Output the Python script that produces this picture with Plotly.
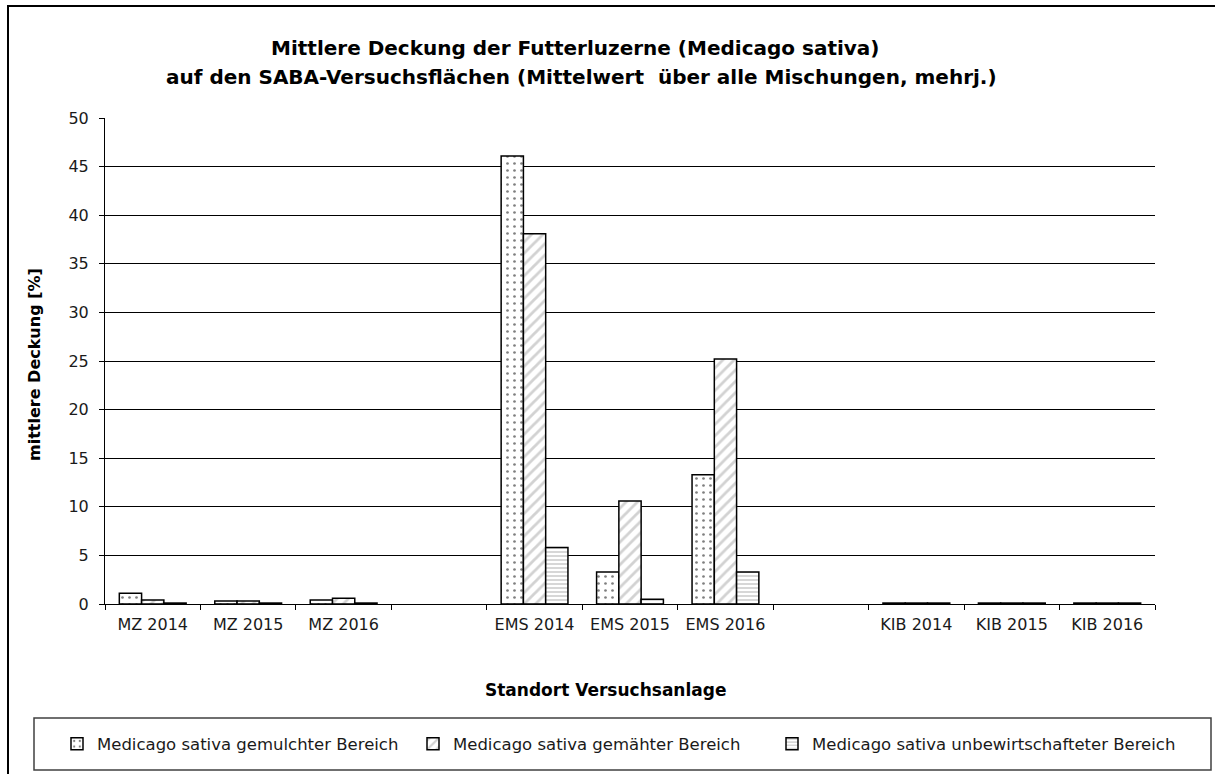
import plotly.graph_objects as go

categories = ["MZ 2014", "MZ 2015", "MZ 2016", " ", "EMS 2014", "EMS 2015", "EMS 2016", "  ",
              "KIB 2014", "KIB 2015", "KIB 2016"]
gemulcht = [1.1, 0.3, 0.4, None, 46.1, 3.3, 13.3, None, 0.1, 0.1, 0.1]
gemaeht = [0.4, 0.3, 0.6, None, 38.1, 10.6, 25.2, None, 0.1, 0.1, 0.1]
unbewirtschaftet = [0.1, 0.1, 0.1, None, 5.8, 0.5, 3.3, None, 0.1, 0.1, 0.1]
series_names = ["Medicago sativa gemulchter Bereich",
                "Medicago sativa gemähter Bereich",
                "Medicago sativa unbewirtschafteter Bereich"]
y_ticks = [0, 5, 10, 15, 20, 25, 30, 35, 40, 45, 50]

FONT = "DejaVu Sans, Arial, sans-serif"
W, H = 1215, 774
L, R, T, B = 105, 1155, 118, 604


def px(x):
    return (x - L) / (R - L)


def py(y):
    return (B - y) / (B - T)


fig = go.Figure()
patterns = [
    dict(shape=".", fgcolor="black", bgcolor="white", size=7, solidity=0.12),
    dict(shape="/", fgcolor="#a6a6a6", bgcolor="white", size=8, solidity=0.35),
    dict(shape="-", fgcolor="#a6a6a6", bgcolor="white", size=4, solidity=0.45),
]
legend_ids = ["legend", "legend2", "legend3"]
legend_text_x = [97, 453, 812]
for name, vals, pat, lid in zip(series_names, [gemulcht, gemaeht, unbewirtschaftet], patterns, legend_ids):
    fig.add_trace(go.Bar(
        x=categories, y=vals, name=name, legend=lid,
        marker=dict(color="white", pattern=pat, line=dict(color="black", width=1.5)),
    ))

legend_common = dict(orientation="h", xanchor="left", y=py(744), yanchor="middle",
                     font=dict(family=FONT, size=16.5, color="#1a1a1a"),
                     bgcolor="rgba(0,0,0,0)", borderwidth=0)

fig.update_layout(
    width=W, height=H,
    margin=dict(l=L, r=W - R, t=T, b=H - B, autoexpand=False),
    paper_bgcolor="white", plot_bgcolor="white",
    font=dict(family=FONT, size=16, color="#1a1a1a"),
    barmode="group", bargap=0.3, bargroupgap=0,
    showlegend=True,
    legend=dict(x=px(legend_text_x[0] - 40), **legend_common),
    legend2=dict(x=px(legend_text_x[1] - 40), **legend_common),
    legend3=dict(x=px(legend_text_x[2] - 40), **legend_common),
    xaxis=dict(type="category", categoryorder="array", categoryarray=categories,
               showline=True, linecolor="black", linewidth=1,
               ticks="outside", tickson="boundaries", ticklen=5, tickcolor="black",
               showgrid=False, tickfont=dict(size=16), ticklabelstandoff=6),
    yaxis=dict(range=[0, 50], tickvals=y_ticks, showline=True, linecolor="black", linewidth=1,
               ticks="outside", ticklen=5, tickcolor="black",
               showgrid=True, gridcolor="black", gridwidth=1, zeroline=False,
               tickfont=dict(size=16), ticklabelstandoff=7),
)

fig.add_annotation(text="<b>Mittlere Deckung der Futterluzerne (Medicago sativa)</b>",
                   xref="paper", yref="paper", x=px(575), y=py(48), showarrow=False,
                   xanchor="center", yanchor="middle", font=dict(size=20, color="black"))
fig.add_annotation(text="<b>auf den SABA-Versuchsflächen (Mittelwert  über alle Mischungen, mehrj.)</b>",
                   xref="paper", yref="paper", x=px(581), y=py(77), showarrow=False,
                   xanchor="center", yanchor="middle", font=dict(size=20, color="black"))
fig.add_annotation(text="<b>mittlere Deckung [%]</b>", textangle=-90,
                   xref="paper", yref="paper", x=px(34), y=py(365), showarrow=False,
                   xanchor="center", yanchor="middle", font=dict(size=16, color="black"))
fig.add_annotation(text="<b>Standort Versuchsanlage</b>",
                   xref="paper", yref="paper", x=px(605), y=py(690), showarrow=False,
                   xanchor="center", yanchor="middle", font=dict(size=17, color="black"))

# outer frame and legend frame
fig.add_shape(type="rect", xref="paper", yref="paper",
              x0=px(8), x1=px(1240), y0=py(6), y1=py(800),
              line=dict(color="black", width=2), fillcolor="rgba(0,0,0,0)")
fig.add_shape(type="rect", xref="paper", yref="paper",
              x0=px(34), x1=px(1211), y0=py(718), y1=py(770),
              line=dict(color="#404040", width=1.5), fillcolor="rgba(0,0,0,0)")

fig.write_html("out.html", config={"displayModeBar": False},
               post_script="document.body.style.margin='0';document.body.style.overflow='hidden';")
